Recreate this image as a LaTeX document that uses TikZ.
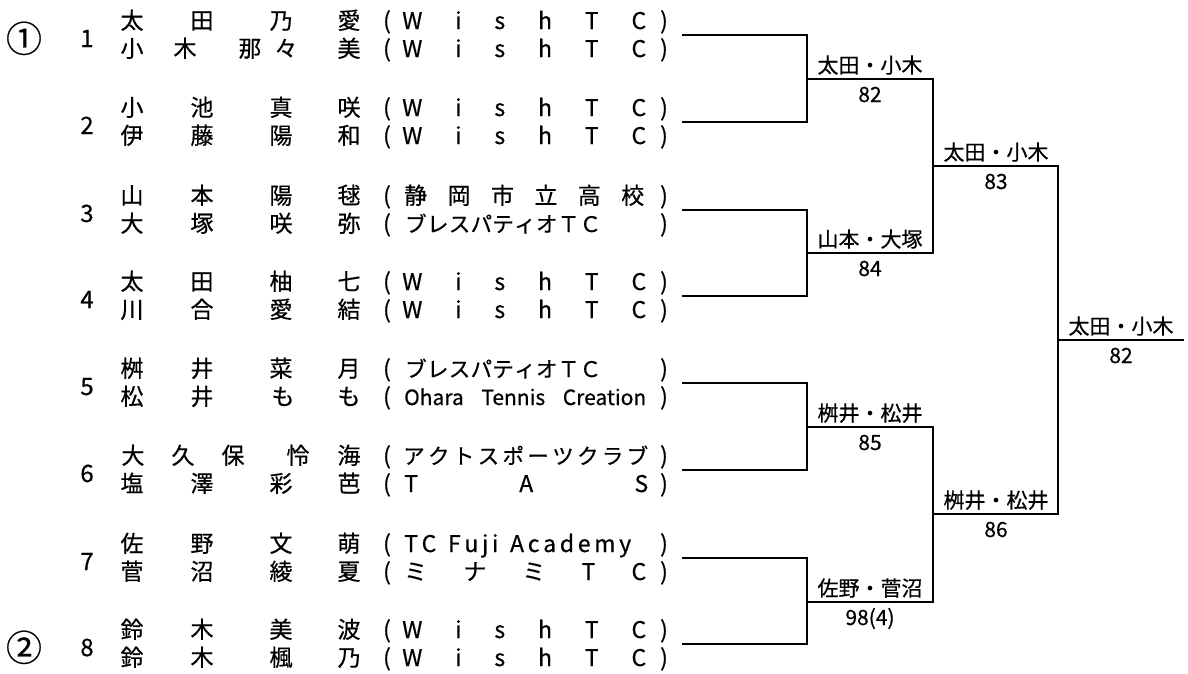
\documentclass[tikz,border=0pt]{standalone}
\usepackage{fontspec}
\setmainfont{Noto Sans CJK JP}[FakeBold=0.5]
\newcommand\nmrow[3]{\foreach \xx/\cc [count=\ii] in {#3} {\node[nm] (#1-\ii) at (\xx,#2) {\cc};}}
\newcommand\spreadbox[2]{\hbox to #1{#2}}
\begin{document}
\begin{tikzpicture}[x=1pt,y=-1pt,
  nm/.style={inner sep=0pt, anchor=base, font=\fontsize{23}{23}\selectfont},
  team/.style={inner sep=0pt, anchor=base west, font=\fontsize{23}{23}\selectfont},
  kana/.style={inner sep=0pt, anchor=base west, font=\fontsize{21.5}{21.5}\selectfont},
  small/.style={inner sep=0pt, anchor=base west, font=\fontsize{21}{21}\selectfont},
  num/.style={inner sep=0pt, anchor=base, font=\fontsize{24}{24}\selectfont},
  circ/.style={inner sep=0pt, anchor=base, font=\fontsize{36}{36}\selectfont},
  win/.style={inner sep=0pt, anchor=base, font=\fontsize{21}{21}\selectfont},
  br/.style={line width=2.5pt, line cap=rect, line join=miter}]
\useasboundingbox (0,0) rectangle (1188,673);

% seeds
\node[circ] (s1) at (24,52) {①};
\node[circ] (s2) at (24,661) {②};

% draw numbers
\foreach \n/\b in {1/47,2/134,3/222,4/308,5/395,6/482,7/570,8/656}
  \node[num] (no\n) at (87,\b) {\n};

% names
\nmrow{n1a}{29}{132/太,202/田,281/乃,349/愛}
\nmrow{n1b}{57}{132/小,185/木,250/那,286/々,349/美}
\nmrow{n2a}{116}{132/小,202/池,281/真,349/咲}
\nmrow{n2b}{144}{132/伊,202/藤,281/陽,349/和}
\nmrow{n3a}{204}{132/山,202/本,281/陽,349/毬}
\nmrow{n3b}{232}{132/大,202/塚,281/咲,349/弥}
\nmrow{n4a}{290}{132/太,202/田,281/柚,349/七}
\nmrow{n4b}{318}{132/川,202/合,281/愛,349/結}
\nmrow{n5a}{377}{132/桝,202/井,281/菜,349/月}
\nmrow{n5b}{405}{132/松,202/井,283/も,349/も}
\nmrow{n6a}{464}{133/大,183/久,233/保,298/怜,349/海}
\nmrow{n6b}{492}{132/塩,202/澤,281/彩,349/芭}
\nmrow{n7a}{552}{132/佐,202/野,281/文,349/萌}
\nmrow{n7b}{580}{132/菅,202/沼,281/綾,349/夏}
\nmrow{n8a}{638}{132/鈴,202/木,281/美,349/波}
\nmrow{n8b}{666}{132/鈴,202/木,281/楓,349/乃}

% parentheses
\foreach \r/\b in {1a/29,1b/57,2a/116,2b/144,3a/204,3b/232,4a/290,4b/318,5a/377,5b/405,6a/464,6b/492,7a/552,7b/580,8a/638,8b/666}{
  \node[nm] (lp\r) at (387,\b) {(};
  \node[nm] (rp\r) at (664,\b) {)};
}

% teams
\foreach \r/\b in {1a/29,1b/57,2a/116,2b/144,4a/290,4b/318,8a/638,8b/666}
  \node[team] (t\r) at (402,\b) {\spreadbox{244pt}{W\hfill i\hfill s\hfill h\hfill T\hfill C}};
\node[team] (t3a) at (404,204) {\spreadbox{240pt}{静\hfill 岡\hfill 市\hfill 立\hfill 高\hfill 校}};
\node[kana] (t3b) at (405,232) {\spreadbox{196pt}{ブ\hfill レ\hfill ス\hfill パ\hfill テ\hfill ィ\hfill オ\hfill Ｔ\hfill Ｃ}};
\node[kana] (t5a) at (405,377) {\spreadbox{196pt}{ブ\hfill レ\hfill ス\hfill パ\hfill テ\hfill ィ\hfill オ\hfill Ｔ\hfill Ｃ}};
\node[small] (t5b) at (404,405) {\spreadbox{242pt}{Ohara\hfill Tennis\hfill Creation}};
\node[kana] (t6a) at (403,464) {\spreadbox{245pt}{ア\hfill ク\hfill ト\hfill ス\hfill ポ\hfill ー\hfill ツ\hfill ク\hfill ラ\hfill ブ}};
\node[team] (t6b) at (404,492) {\spreadbox{244pt}{T\hfill A\hfill S}};
\node[team] (t7a) at (404,552) {\spreadbox{227pt}{T\hfill C\hskip 8pt\hfill F\hfill u\hfill j\hfill i\hskip 8pt\hfill A\hfill c\hfill a\hfill d\hfill e\hfill m\hfill y}};
\node[team] (t7b) at (404,580) {\spreadbox{242pt}{ミ\hfill ナ\hfill ミ\hfill T\hfill C}};

% bracket coordinates
\foreach \k/\L in {1/35,2/122,3/210,4/296,5/383,6/470,7/558,8/644}
  \coordinate (p\k) at (683,\L);
\coordinate (c1) at (807,79);
\coordinate (c2) at (807,253);
\coordinate (c3) at (807,427);
\coordinate (c4) at (807,602);
\coordinate (e1) at (933,79);
\coordinate (e2) at (933,253);
\coordinate (e3) at (933,427);
\coordinate (e4) at (933,602);
\coordinate (f1) at (933,166);
\coordinate (f2) at (933,514);
\coordinate (g1) at (1058,166);
\coordinate (g2) at (1058,514);
\coordinate (h) at (1058,340);
\coordinate (hend) at (1183,340);

\draw[br] (p1) -| (c1) |- (p2);
\draw[br] (p3) -| (c2) |- (p4);
\draw[br] (p5) -| (c3) |- (p6);
\draw[br] (p7) -| (c4) |- (p8);
\draw[br] (c1) -- (e1) -- (e2) -- (c2);
\draw[br] (c3) -- (e3) -- (e4) -- (c4);
\draw[br] (f1) -- (g1) -- (g2) -- (f2);
\draw[br] (h) -- (hend);

% winner labels
\node[win] (w1) at (870,73) {太田・小木};
\node[win] (r1) at (870,102) {82};
\node[win] (w2) at (870,247) {山本・大塚};
\node[win] (r2) at (870,276) {84};
\node[win] (w3) at (870,421) {桝井・松井};
\node[win] (r3) at (870,450) {85};
\node[win] (w4) at (870,596) {佐野・菅沼};
\node[win] (r4) at (870,625) {98(4)};
\node[win] (w5) at (996,160) {太田・小木};
\node[win] (r5) at (996,189) {83};
\node[win] (w6) at (996,508) {桝井・松井};
\node[win] (r6) at (996,537) {86};
\node[win] (w7) at (1121,334) {太田・小木};
\node[win] (r7) at (1121,363) {82};
\end{tikzpicture}
\end{document}
